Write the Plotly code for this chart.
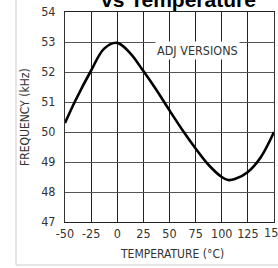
import plotly.graph_objects as go

temps = [-50, -40, -25, -12.5, 0, 12.5, 25, 37.5, 50, 62.5, 75, 87.5, 100, 106, 112.5, 125, 137.5, 150]
freq = [50.3, 51.05, 52.05, 52.78, 52.97, 52.62, 52.03, 51.4, 50.72, 50.06, 49.45, 48.9, 48.5, 48.4, 48.43, 48.67, 49.17, 50.0]

x_ticks = [-50, -25, 0, 25, 50, 75, 100, 125, 150]
y_ticks = [47, 48, 49, 50, 51, 52, 53, 54]

FONT = "Liberation Sans Narrow, DejaVu Sans Condensed, Arial Narrow, sans-serif"

L, R, T, B = 65, 4, 12, 46
W, H = 278, 268
PW, PH = W - L - R, H - T - B


def px(x):
    return (x - L) / PW


def py(y):
    return (H - B - y) / PH


fig = go.Figure()
fig.add_trace(go.Scatter(x=temps, y=freq, mode="lines",
                         line=dict(color="black", width=2.6, shape="spline", smoothing=1.0),
                         hoverinfo="skip", showlegend=False))

fig.update_layout(
    width=W, height=H,
    margin=dict(l=L, r=R, t=T, b=B, autoexpand=False),
    paper_bgcolor="white", plot_bgcolor="white",
    showlegend=False,
    font=dict(family=FONT, size=12, color="#333"),
)
fig.update_xaxes(range=[-50, 150], tickvals=x_ticks[:-1], ticktext=[str(v) for v in x_ticks[:-1]],
                 showgrid=True, gridcolor="#222", gridwidth=1,
                 showline=True, linecolor="#222", linewidth=1, mirror=True,
                 zeroline=False, ticks="",
                 automargin=False,
                 tickfont=dict(family=FONT, size=12.5, color="#333"))
fig.update_yaxes(range=[47, 54], tickvals=y_ticks, ticktext=[str(v) for v in y_ticks],
                 showgrid=True, gridcolor="#555", gridwidth=1,
                 showline=True, linecolor="#333", linewidth=1, mirror=True,
                 zeroline=False, ticks="outside", ticklen=6, tickcolor="rgba(0,0,0,0)",
                 automargin=False,
                 tickfont=dict(family=FONT, size=12.5, color="#333"))

# last x tick label (partly beyond the right edge, as in the original)
fig.add_annotation(x=x_ticks[-1], y=py(232), xref="x", yref="paper", text=str(x_ticks[-1]),
                   showarrow=False, xanchor="center", yanchor="middle",
                   font=dict(family=FONT, size=12.5, color="#333"))

fig.add_annotation(x=px(25), y=py(117), xref="paper", yref="paper", text="FREQUENCY (kHz)",
                   showarrow=False, textangle=-90, xanchor="center", yanchor="middle",
                   font=dict(family=FONT, size=12, color="#333"))
fig.add_annotation(x=px(172), y=py(254), xref="paper", yref="paper", text="TEMPERATURE (°C)",
                   showarrow=False, xanchor="center", yanchor="middle",
                   font=dict(family=FONT, size=12, color="#333"))

fig.add_annotation(x=px(197.5), y=py(50), xref="paper", yref="paper", text="ADJ VERSIONS",
                   showarrow=False, xanchor="center", yanchor="middle",
                   font=dict(family=FONT, size=12.5, color="#333"),
                   bgcolor="white", borderpad=1)

fig.add_annotation(x=px(178), y=py(6), xref="paper", yref="paper", text="<b>vs Temperature</b>",
                   showarrow=False, xanchor="center", yanchor="bottom", yshift=-7,
                   font=dict(family="Liberation Sans, Arial, sans-serif", size=21, color="black"))

# outer frame of the original figure
fig.add_shape(type="line", xref="paper", yref="paper", x0=px(16), x1=px(16), y0=py(265), y1=py(-5),
              line=dict(color="#ccc", width=1))
fig.add_shape(type="line", xref="paper", yref="paper", x0=px(16), x1=px(290), y0=py(265), y1=py(265),
              line=dict(color="#ccc", width=1))

fig.write_html("out.html", config={"displayModeBar": False},
               post_script="document.body.style.margin='0';document.body.style.overflow='hidden';")
